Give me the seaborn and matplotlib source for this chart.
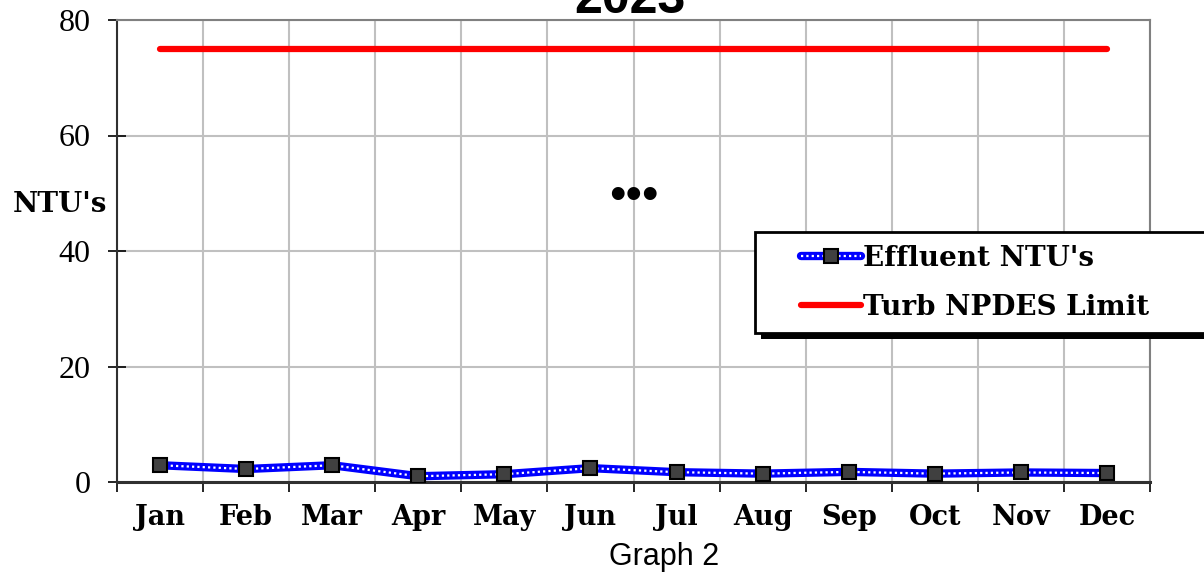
import numpy as np
import pandas as pd
import matplotlib
matplotlib.use("Agg")
import matplotlib.pyplot as plt
import matplotlib.patheffects as pe
import seaborn as sns
from matplotlib.lines import Line2D
from matplotlib.legend_handler import HandlerTuple, HandlerLine2D

# ---- data ----
months = ["Jan", "Feb", "Mar", "Apr", "May", "Jun", "Jul", "Aug", "Sep", "Oct", "Nov", "Dec"]
effluent_ntu = [2.9, 2.25, 2.9, 1.0, 1.35, 2.4, 1.7, 1.45, 1.75, 1.45, 1.65, 1.55]
npdes_limit = [75, 75, 75, 75, 75, 75, 75, 75, 75, 75, 75, 75]
y_ticks = [0, 20, 40, 60, 80]
title_text = "2023"
caption_text = "Graph 2"
ylabel_text = "NTU's"
series_names = ["Effluent NTU's", "Turb NPDES Limit"]

df = pd.DataFrame({"Month": months, "Effluent": effluent_ntu, "Limit": npdes_limit})

sns.set_style("white")
plt.rcParams["font.family"] = ["DejaVu Serif", "DejaVu Sans"]
plt.rcParams["text.color"] = "black"
plt.rcParams["xtick.color"] = "black"
plt.rcParams["ytick.color"] = "black"
plt.rcParams["axes.labelcolor"] = "black"

W, H = 1204, 574
fig = plt.figure(figsize=(W / 100, H / 100), dpi=100)
ax = fig.add_axes([117 / W, 1 - 482 / H, (1150 - 117) / W, (482 - 20) / H])

BLUE_LW = 6.0
DOT_LW = 1.6
DOT_LS = (0, (1, 1.4))
MS = 10.5

# limit line
sns.lineplot(data=df, x="Month", y="Limit", ax=ax, color="#ff0000", lw=4.5,
             solid_capstyle="round", zorder=3, sort=False)
# effluent line: blue band with white dotted core, and square markers
sns.lineplot(data=df, x="Month", y="Effluent", ax=ax, color="#0000ff", lw=BLUE_LW,
             solid_capstyle="round", zorder=4, sort=False)
sns.lineplot(data=df, x="Month", y="Effluent", ax=ax, color="white", lw=DOT_LW,
             linestyle=DOT_LS, zorder=5, sort=False)
sns.lineplot(data=df, x="Month", y="Effluent", ax=ax, lw=0, marker="s",
             markersize=MS, markerfacecolor="#404040", markeredgecolor="black",
             markeredgewidth=1.5, zorder=6, sort=False)

n = len(months)
ax.set_xlim(-0.5, n - 0.5)
ax.set_ylim(y_ticks[0], y_ticks[-1])
ax.set_yticks(y_ticks)
ax.set_xticks(np.arange(n))
ax.set_xticklabels(months, fontweight="bold", fontsize=19.5, family="DejaVu Serif")
ax.set_xticks(np.arange(n + 1) - 0.5, minor=True)
ax.set_xlabel("")
ax.set_ylabel("")

for lab in ax.get_yticklabels():
    lab.set_family("Liberation Serif")
    lab.set_fontsize(23)

ax.tick_params(axis="x", which="major", length=0, pad=15.5)
ax.tick_params(axis="x", which="minor", length=7, width=1.2, direction="out",
               color="black", bottom=True)
ax.tick_params(axis="y", which="major", length=13, width=1.2, direction="inout",
               color="black", left=True, pad=12.5)

ax.grid(which="minor", axis="x", color="#c0c0c0", lw=1.5)
ax.grid(which="major", axis="y", color="#c0c0c0", lw=1.5)
ax.grid(which="major", axis="x", visible=False)
ax.set_axisbelow(True)

for side in ["top", "right"]:
    ax.spines[side].set_color("#808080")
    ax.spines[side].set_linewidth(1.5)
ax.spines["left"].set_color("#303030")
ax.spines["left"].set_linewidth(1.5)
ax.spines["bottom"].set_color("#303030")
ax.spines["bottom"].set_linewidth(2.2)

# ellipsis annotation
ax.text(5.5, 47.2, "\u2022\u2022\u2022", ha="center", va="baseline",
        fontsize=34, family="Liberation Sans", color="black")

# title (partly cut by the top edge, as in the source) and caption
fig.text(630 / W, 1 - 13 / H, title_text, ha="center", va="baseline",
         fontsize=36, fontweight="bold", family="Liberation Sans")
fig.text(664 / W, 1 - 565 / H, caption_text, ha="center", va="baseline",
         fontsize=22, family="Liberation Sans")
fig.text(13 / W, 1 - 204 / H, ylabel_text, ha="left", va="center",
         fontsize=20, fontweight="bold", family="DejaVu Serif")

# legend
LFS = 20
XPAD = 1.22
h_eff = (Line2D([], [], color="#0000ff", lw=BLUE_LW, solid_capstyle="round"),
         Line2D([], [], color="white", lw=DOT_LW, linestyle=DOT_LS),
         Line2D([], [], lw=0, marker="s", markersize=MS, markerfacecolor="#404040",
                markeredgecolor="black", markeredgewidth=1.5))
h_lim = Line2D([], [], color="#ff0000", lw=4.5, solid_capstyle="round")
leg = fig.legend([h_eff, h_lim], series_names, loc="upper left",
                 bbox_to_anchor=(755 / W, 1 - 232 / H - 0.01, (W - 755 + 2) / W, 0.01),
                 mode="expand", frameon=True, fancybox=False, shadow=False,
                 framealpha=1.0, facecolor="white",
                 prop={"family": "DejaVu Serif", "weight": "bold", "size": LFS},
                 handlelength=3.35, handletextpad=0.1, borderpad=0.45,
                 labelspacing=0.8, borderaxespad=0,
                 handler_map={tuple: HandlerTuple(ndivide=1, xpad=XPAD),
                              Line2D: HandlerLine2D(xpad=XPAD)})
frame = leg.get_frame()
frame.set_edgecolor("black")
frame.set_linewidth(2)
frame.set_path_effects([pe.SimplePatchShadow(offset=(4, -4), shadow_rgbFace="black",
                                             alpha=1.0), pe.Normal()])

fig.savefig("out.png", dpi=100)
